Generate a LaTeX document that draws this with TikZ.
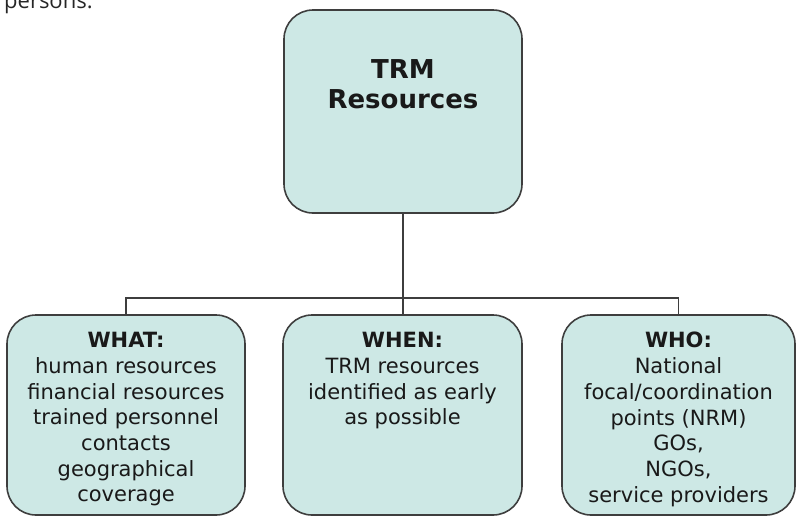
\documentclass[tikz,border=0pt]{standalone}
\usepackage{fontspec}
\setmainfont{DejaVu Sans}
\newfontfamily\pagefont{Open Sans}
\usepackage{tikz}
\usetikzlibrary{positioning}
\definecolor{boxfill}{RGB}{205,232,229}
\definecolor{boxline}{RGB}{62,62,62}

\begin{document}
\begin{tikzpicture}[x=1pt,y=-1pt,
    resbox/.style={draw=boxline,line width=1.6pt,fill=boxfill,
                   rounded corners=29pt,inner sep=0pt},
    restext/.style={inner sep=0pt,align=center,text=black!90,
                    font=\fontsize{21}{25.7}\selectfont},
    link/.style={draw=boxline,line width=1.6pt}]
    \pgfmathsetmacro{\bh}{200}
    \pgfmathsetmacro{\by}{415}
    \pgfmathsetmacro{\busy}{298}

    \useasboundingbox (0,0) rectangle (796,517);

    % Text left over from the page above
    \node [anchor=base west,inner sep=0pt,text=black!85,
           font=\pagefont\fontsize{22}{26}\selectfont] (prev) at (4,8) {persons.};

    % Draw the boxes
    \node [resbox,minimum width=238pt,minimum height=203pt] (trm) at (403,111.5) {};
    \node [resbox,minimum width=238pt,minimum height=\bh pt] (what) at (126,\by) {};
    \node [resbox,minimum width=239pt,minimum height=\bh pt] (when) at (402.5,\by) {};
    \node [resbox,minimum width=233pt,minimum height=\bh pt] (who) at (678.5,\by) {};

    % Texts in the boxes
    \node [restext,font=\bfseries\fontsize{26}{30}\selectfont,
           below=50pt of trm.north] (trmtext) {TRM\\Resources};
    \node [restext,below=18pt of what.north] (whattext)
          {\textbf{WHAT:}\\human resources\\financial resources\\trained personnel\\contacts\\geographical\\coverage};
    \node [restext,below=18pt of when.north] (whentext)
          {\textbf{WHEN:}\\TRM resources\\identified as early\\as possible};
    \node [restext,below=18pt of who.north] (whotext)
          {\textbf{WHO:}\\National\\focal/coordination\\points (NRM)\\GOs,\\NGOs,\\service providers};

    % Draw the connectors
    \coordinate (bus) at (403,\busy);
    \draw [link] (trm.south) -- (bus);
    \draw [link] (bus) -| (what.north);
    \draw [link] (bus) -| (who.north);
    \draw [link] (bus) -- (bus |- when.north);

\end{tikzpicture}
\end{document}
